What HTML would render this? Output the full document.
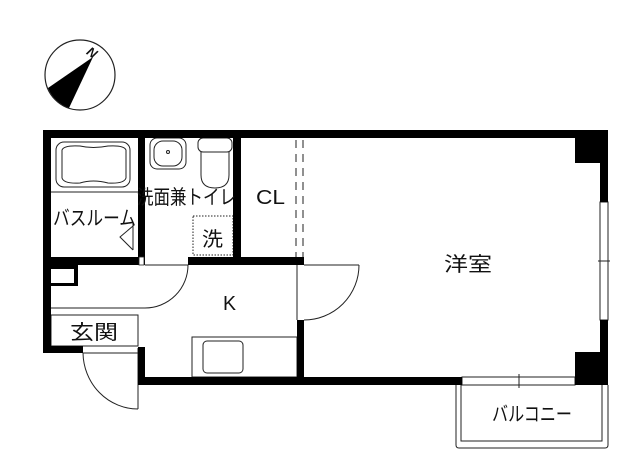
<!DOCTYPE html>
<html><head><meta charset="utf-8"><style>
html,body{margin:0;padding:0;background:#fff;width:640px;height:466px;overflow:hidden}
svg{display:block}
text{font-family:"Liberation Sans","Noto Sans CJK JP",sans-serif;fill:#111}
</style></head><body>
<svg width="640" height="466" viewBox="0 0 640 466" xmlns="http://www.w3.org/2000/svg">
<!-- compass -->
<circle cx="80" cy="75" r="35" fill="none" stroke="#222" stroke-width="1.2"/>
<path d="M93,57 L48,88 A35,35 0 0 0 69,108 Z" fill="#000"/>
<text x="88" y="58" font-size="13" font-style="italic" font-weight="bold" transform="rotate(35 94 52)">N</text>

<g fill="none" stroke="#222" stroke-width="1">
<line x1="296" y1="140" x2="296" y2="257" stroke-dasharray="8,6"/>
<line x1="303" y1="140" x2="303" y2="257" stroke-dasharray="8,6"/>
<rect x="56" y="142" width="74" height="45" rx="8"/>
<path d="M62,150 Q64,145 80,146 Q93,149 108,146 Q124,145 126,150 L126,178 Q124,184 108,183 Q93,179 80,183 Q64,184 62,178 Z"/>
<line x1="51" y1="192" x2="138" y2="192"/>
<line x1="133" y1="222" x2="133" y2="250"/>
<polyline points="133,226 120,237 133,250"/>
<rect x="150" y="138" width="36" height="31" rx="7"/>
<rect x="154" y="141" width="28" height="25" rx="9"/>
<circle cx="168" cy="152" r="1.5"/>
<rect x="198" y="138" width="34" height="14" rx="5"/>
<path d="M201,152 L201,175 Q201,188 215,188 Q229,188 229,175 L229,152"/>
<rect x="193" y="216" width="40" height="39" stroke-dasharray="1.5,1.5"/>
<line x1="145" y1="265" x2="188" y2="265"/>
<path d="M188,265 A43,43 0 0 1 145,308"/>
<line x1="304" y1="265" x2="359" y2="265"/>
<path d="M359,265 A55,55 0 0 1 304,320"/>
<line x1="297" y1="265" x2="297" y2="320"/>
<line x1="138" y1="348" x2="138" y2="409"/>
<path d="M83,353 A55,57 0 0 0 138,409"/>
<line x1="51" y1="308" x2="145" y2="308"/>
<rect x="51" y="315" width="87" height="31"/>
<line x1="83" y1="353" x2="138" y2="353"/>
<rect x="192" y="337" width="105" height="40"/>
<rect x="203" y="341" width="40" height="32" rx="4"/>
<rect x="600" y="202" width="8" height="118" fill="#fff"/>
<line x1="598" y1="261" x2="610" y2="261"/>
<rect x="462" y="377" width="113" height="8" fill="#fff"/>
<line x1="519" y1="374" x2="519" y2="388"/>
<path d="M456,385 L456,445 Q456,448 459,448 L605,448 Q608,448 608,445 L608,385"/>
<polyline points="461,385 461,441 602,441 602,385"/>
</g>

<g fill="#000">
<rect x="43" y="130" width="565" height="8"/>
<rect x="43" y="130" width="8" height="223"/>
<rect x="600" y="130" width="8" height="72"/>
<rect x="600" y="320" width="8" height="65"/>
<rect x="575" y="130" width="33" height="33"/>
<rect x="575" y="352" width="33" height="33"/>
<rect x="138" y="377" width="324" height="8"/>
<rect x="43" y="346" width="40" height="7"/>
<rect x="138" y="130" width="7" height="127"/>
<rect x="233" y="130" width="8" height="135"/>
<rect x="43" y="257" width="102" height="8"/>
<rect x="188" y="257" width="116" height="8"/>
<rect x="138" y="347" width="7" height="38"/>
<rect x="297" y="320" width="7" height="65"/>
<rect x="51" y="265" width="27" height="4"/>
<rect x="74" y="265" width="4" height="21"/>
<rect x="51" y="283" width="27" height="3"/>
</g>
<rect x="139" y="257" width="5" height="8" fill="#fff" stroke="#222" stroke-width="0.8"/>

<g font-size="20">
<text x="137" y="204" textLength="99" lengthAdjust="spacingAndGlyphs">洗面兼トイレ</text>
<text x="256" y="204" textLength="29" lengthAdjust="spacingAndGlyphs">CL</text>
<text x="53" y="225" textLength="83" lengthAdjust="spacingAndGlyphs">バスルーム</text>
<text x="202" y="246" textLength="21" lengthAdjust="spacingAndGlyphs">洗</text>
<text x="223" y="310" textLength="13" lengthAdjust="spacingAndGlyphs">K</text>
<text x="70" y="339" textLength="48" lengthAdjust="spacingAndGlyphs">玄関</text>
<text x="444" y="271" textLength="48" lengthAdjust="spacingAndGlyphs">洋室</text>
<text x="492" y="421" textLength="80" lengthAdjust="spacingAndGlyphs">バルコニー</text>
</g>
</svg>
</body></html>
